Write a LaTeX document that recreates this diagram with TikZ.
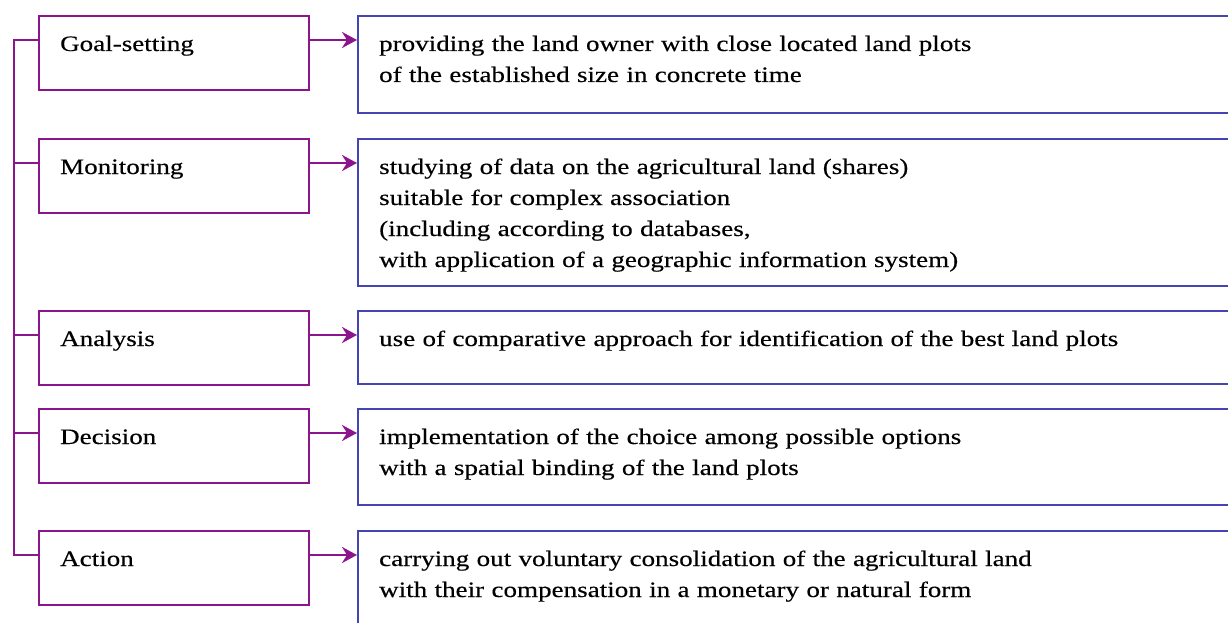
\documentclass[tikz,border=0pt]{standalone}
\usepackage{fontspec}
\setmainfont[FakeStretch=1.23,FakeBold=0.3]{Liberation Serif}
\usetikzlibrary{arrows.meta,calc}
\definecolor{stagec}{RGB}{140,20,140}
\definecolor{taskc}{RGB}{68,68,178}

\begin{document}
\begin{tikzpicture}[x=1pt,y=-1pt,line width=2.3pt,
  stage/.style={draw=stagec,minimum width=270pt,minimum height=74pt,inner sep=0,anchor=north west},
  task/.style={draw=taskc,minimum width=890pt,minimum height=#1,inner sep=0,anchor=north west},
  txt/.style={anchor=base west,inner sep=0,align=left,font=\fontsize{22}{31}\selectfont},
  link/.style={draw=stagec,-{Stealth[length=15pt,width=16pt,inset=5pt]}}]
\fill[white] (0,0) rectangle (1228,623);
\clip (0,0) rectangle (1228,623);

% stages (left) and what is done in them (right)
\node[stage] (goal) at (38,15)  {};
\node[stage] (mon)  at (38,138) {};
\node[stage] (ana)  at (38,310) {};
\node[stage] (dec)  at (38,408) {};
\node[stage] (act)  at (38,530) {};

\node[task=97pt]  (taskgoal) at (357,15)  {};
\node[task=147pt] (taskmon)  at (357,138) {};
\node[task=73pt]  (taskana)  at (357,310) {};
\node[task=96pt]  (taskdec)  at (357,408) {};
\node[task=110pt] (taskact)  at (357,530) {};

\node[txt] (goalname) at ($(goal.north west)+(21,36)$) {Goal-setting};
\node[txt] (monname)  at ($(mon.north west)+(21,36)$)  {Monitoring};
\node[txt] (ananame)  at ($(ana.north west)+(21,36)$)  {Analysis};
\node[txt] (decname)  at ($(dec.north west)+(21,36)$)  {Decision};
\node[txt] (actname)  at ($(act.north west)+(21,36)$)  {Action};

\node[txt,text width=840pt] (goaltext) at ($(taskgoal.north west)+(21,36)$)
  {providing the land owner with close located land plots\\of the established size in concrete time};
\node[txt,text width=840pt] (montext) at ($(taskmon.north west)+(21,36)$)
  {studying of data on the agricultural land (shares)\\suitable for complex association\\(including according to databases,\\with application of a geographic information system)};
\node[txt,text width=840pt] (anatext) at ($(taskana.north west)+(21,36)$)
  {use of comparative approach for identification of the best land plots};
\node[txt,text width=840pt] (dectext) at ($(taskdec.north west)+(21,36)$)
  {implementation of the choice among possible options\\with a spatial binding of the land plots};
\node[txt,text width=840pt] (acttext) at ($(taskact.north west)+(21,36)$)
  {carrying out voluntary consolidation of the agricultural land\\with their compensation in a monetary or natural form};

\foreach \s in {goal,mon,ana,dec,act}{
  \draw[link] ($(\s.north east)+(0,25)$) coordinate (a) -- (a -| task\s.west);
  \draw[stagec] ($(\s.north west)+(0,25)$) -- ++(-24,0);
}
\draw[stagec,line cap=rect] ($(goal.north west)+(-24,25)$) -- ($(act.north west)+(-24,25)$);

\end{tikzpicture}
\end{document}
